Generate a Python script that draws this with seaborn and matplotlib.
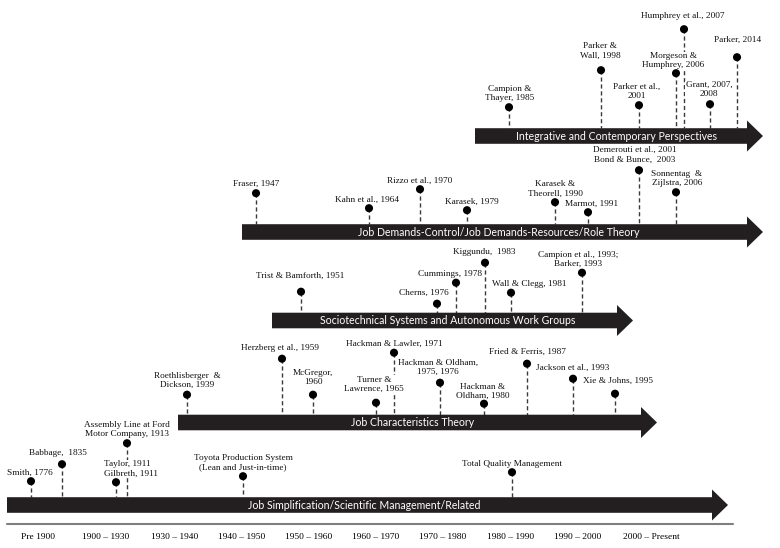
import numpy as np
import pandas as pd
import seaborn as sns
import matplotlib.pyplot as plt
from matplotlib.patches import Polygon

# ---- data ----
periods = ["Pre 1900", "1900 – 1930", "1930 – 1940", "1940 – 1950", "1950 – 1960",
           "1960 – 1970", "1970 – 1980", "1980 – 1990", "1990 – 2000", "2000 – Present"]
period_pos = [38, 106, 175, 242, 309, 376, 443, 511, 578, 651]

streams = ["Job Simplification/Scientific Management/Related",
           "Job Characteristics Theory",
           "Sociotechnical Systems and Autonomous Work Groups",
           "Job Demands-Control/Job Demands-Resources/Role Theory",
           "Integrative and Contemporary Perspectives"]

js_labels = ["Smith, 1776", "Babbage,  1835", "Taylor, 1911\nGilbreth, 1911",
             "Assembly Line at Ford\nMotor Company, 1913",
             "Toyota Production System\n(Lean and Just-in-time)", "Total Quality Management"]
js_pos = [31, 62, 116, 127, 243, 512]

jc_labels = ["Roethlisberger  &\nDickson, 1939", "Herzberg et al., 1959", "McGregor,\n1960",
             "Turner &\nLawrence, 1965", "Hackman & Lawler, 1971", "Hackman & Oldham,\n1975, 1976",
             "Hackman &\nOldham, 1980", "Fried & Ferris, 1987", "Jackson et al., 1993",
             "Xie & Johns, 1995"]
jc_pos = [187, 282, 313, 376, 394, 440, 484, 527, 573, 615]

st_labels = ["Trist & Bamforth, 1951", "Cherns, 1976", "Cummings, 1978", "Kiggundu,  1983",
             "Wall & Clegg, 1981", "Campion et al., 1993;\nBarker, 1993"]
st_pos = [301, 437, 456, 485, 511, 582]

jd_labels = ["Fraser, 1947", "Kahn et al., 1964", "Rizzo et al., 1970", "Karasek, 1979",
             "Karasek &\nTheorell, 1990", "Marmot, 1991",
             "Demerouti et al., 2001\nBond & Bunce,  2003", "Sonnentag  &\nZijlstra, 2006"]
jd_pos = [256, 369, 420, 467, 555, 588, 639, 676]

ic_labels = ["Campion &\nThayer, 1985", "Parker &\nWall, 1998", "Parker et al.,\n2001",
             "Morgeson &\nHumphrey, 2006", "Humphrey et al., 2007", "Grant, 2007,\n2008",
             "Parker, 2014"]
ic_pos = [509, 601, 639, 676, 684, 710, 737]

# ---- layout ----
bar_y = [505, 422.5, 320.5, 232, 136]
bar_start = [7, 178, 272, 242, 475]
bar_tip = [728, 657, 633, 763, 763]
bar_text_x = [364, 413, 448, 499, 617]
body_h, head_h, head_len = 7.8, 15.5, 16

js_stem = [16, 33, 15, 54, 21, 25]
jc_stem = [20, 56, 20, 12, 62, 32, 11, 51, 36, 21]
st_stem = [21, 9, 30, 50, 20, 40]
jd_stem = [31, 16, 35, 14, 22, 12, 54, 32]
ic_stem = [21, 58, 23, 55, 99, 24, 71]

js_dx = [-1, -4, 15, 0, 0, 0]
jc_dx = [0, -2, 0, -2, 0, -2, -1, 0, 0, 3]
st_dx = [-1, -13, -6, -1, 18, -4]
jd_dx = [0, -2, 0, 5, 0, 4, -4, 1]
ic_dx = [1, -1, -2, -3, -1, -1, 1]

js_dy = [10, 12, 10, 10, 10, 9]
jc_dy = [11, 12, 14, 15, 10, 12, 9, 13, 12, 14]
st_dy = [17, 12, 10, 12, 10, 10]
jd_dy = [11, 10, 10, 10, 10, 10, 12, 10]
ic_dy = [10, 16, 10, 9, 14, 11, 19]

rows = []
groups = [(js_labels, js_pos, js_stem, js_dx, js_dy),
          (jc_labels, jc_pos, jc_stem, jc_dx, jc_dy),
          (st_labels, st_pos, st_stem, st_dx, st_dy),
          (jd_labels, jd_pos, jd_stem, jd_dx, jd_dy),
          (ic_labels, ic_pos, ic_stem, ic_dx, ic_dy)]
for i, (labs, pos, stem, dx, dy) in enumerate(groups):
    top = bar_y[i] - body_h
    for lab, p, s, ddx, ddy in zip(labs, pos, stem, dx, dy):
        rows.append({"stream": streams[i], "label": lab, "x": p, "base": top,
                     "dot_y": top - s, "tx": p + ddx, "ty": top - s - ddy})
events = pd.DataFrame(rows)

sns.set_style("white")
fig = plt.figure(figsize=(7.8, 5.48), dpi=100)
ax = fig.add_axes([0, 0, 1, 1])
ax.set_xlim(0, 780)
ax.set_ylim(548, 0)
ax.axis("off")

# dashed stems
ax.vlines(events["x"], events["dot_y"], events["base"], colors="#3a3a3a",
          linestyles=(0, (3, 2)), linewidth=1.0, zorder=2)

# dots
sns.scatterplot(data=events, x="x", y="dot_y", color="black", s=34,
                edgecolor="none", legend=False, zorder=4, ax=ax)

# event labels (Taylor/Gilbreth is left aligned in the original)
for _, r in events.iterrows():
    malign = "left" if r["label"].startswith("Taylor") else "center"
    ax.text(r["tx"], r["ty"] + 3.2, r["label"], ha="center", va="baseline",
            multialignment=malign, family="Liberation Serif", fontsize=6.7,
            color="#111111", zorder=3,
            bbox=dict(facecolor="white", edgecolor="none", pad=0.4))

# stream arrows
for name, yc, x0, tip, tx in zip(streams, bar_y, bar_start, bar_tip, bar_text_x):
    xb = tip - head_len
    pts = [(x0, yc - body_h), (xb, yc - body_h), (xb, yc - head_h), (tip, yc),
           (xb, yc + head_h), (xb, yc + body_h), (x0, yc + body_h)]
    ax.add_patch(Polygon(pts, closed=True, facecolor="#231f20", edgecolor="none", zorder=5))
    ax.text(tx, yc + 0.5, name, ha="center", va="center", color="white",
            family="Lato", fontsize=7.6, zorder=6)

# period axis
ax.plot([7, 733], [524, 524], color="#7f7f7f", linewidth=1.5, zorder=1)
for lab, p in zip(periods, period_pos):
    ax.text(p, 537, lab, ha="center", va="center", family="Liberation Serif",
            fontsize=6.8, color="black")

fig.savefig("out.png", dpi=100)
